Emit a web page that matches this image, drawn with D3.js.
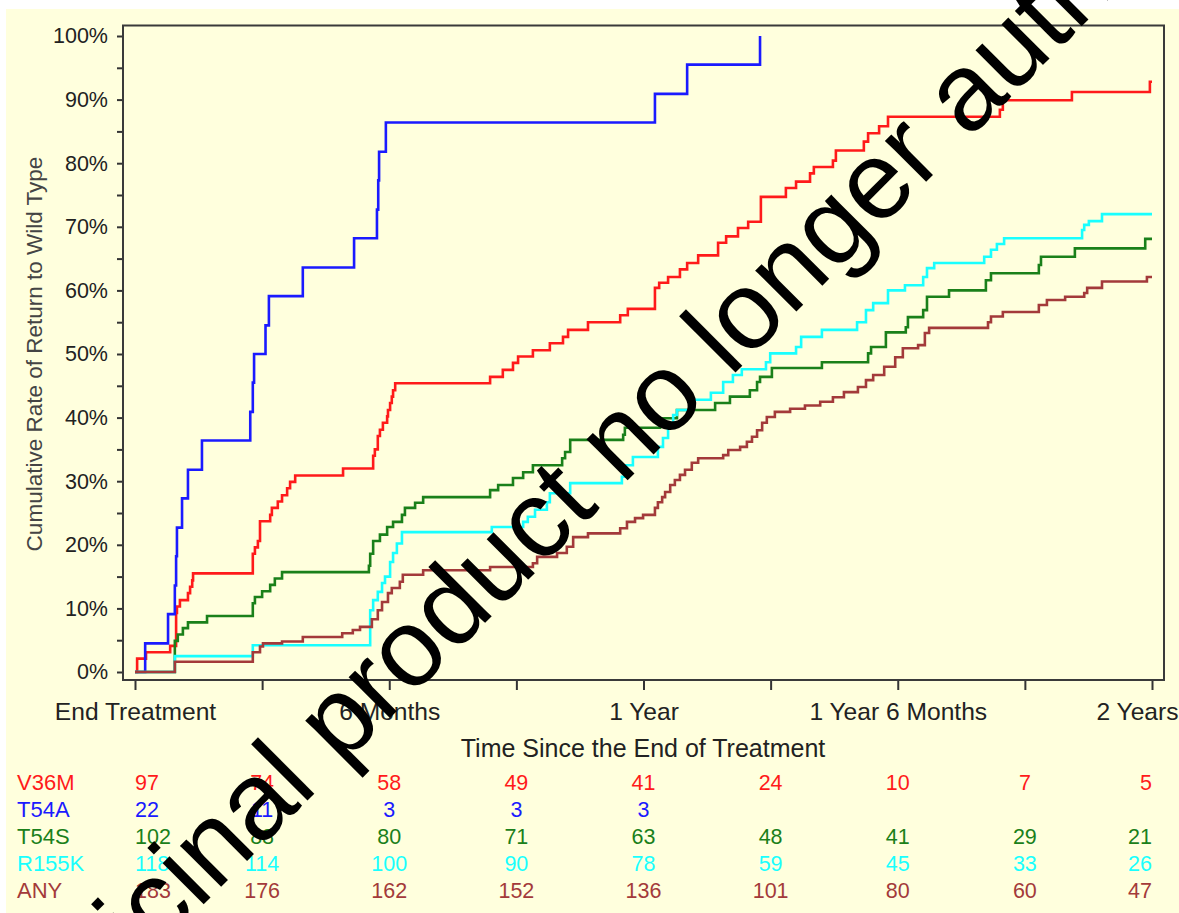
<!DOCTYPE html>
<html>
<head>
<meta charset="utf-8">
<script src="https://cdn.jsdelivr.net/npm/d3@7"></script>
<style>
body { margin: 0; background: #fff; }
svg { display: block; font-family: "Liberation Sans", Arial, sans-serif; }
</style>
</head>
<body>
<svg width="1179" height="913"></svg>
<script>
var tickMonths = [0, 3, 6, 9, 12, 15, 18, 21, 24];
var tickLabels = ["End Treatment", "", "6 Months", "", "1 Year", "", "1 Year 6 Months", "", "2 Years"];
var groups = ["V36M", "T54A", "T54S", "R155K", "ANY"];
var colors = ["#ff1a1a", "#1a1aff", "#1a801a", "#19ffff", "#a33a3a"];

// [months since end of treatment, cumulative % back to wild type]
var v36m = [[0,0],[0.05,2.1],[0.26,3.1],[0.83,4.1],[0.97,9.3],[0.99,10.3],[1.06,11.3],[1.25,12.4],[1.30,13.4],[1.35,14.4],[1.37,15.5],
    [2.78,18.6],[2.83,19.6],[2.90,20.6],[2.95,23.7],[3.19,24.7],[3.23,25.8],[3.37,26.8],[3.47,27.8],[3.59,28.9],[3.66,29.9],[3.78,30.9],
    [4.91,32.0],[5.62,34.0],[5.66,35.0],[5.73,37.1],[5.78,38.1],[5.85,39.2],[5.95,40.2],[5.97,41.2],[6.02,42.3],[6.06,43.3],[6.09,44.3],[6.14,45.4],
    [8.38,46.4],[8.68,47.5],[8.92,48.6],[9.04,49.6],[9.39,50.6],[9.79,51.7],[10.10,52.7],[10.22,53.8],[10.69,55.0],[11.45,56.1],[11.63,57.1],
    [12.27,60.4],[12.37,61.2],[12.58,62.1],[12.86,63.3],[13.03,64.3],[13.29,65.5],[13.76,67.5],[13.95,68.5],[14.23,69.8],[14.47,70.8],[14.77,74.7],
    [15.36,76.1],[15.60,77.1],[15.93,78.4],[16.02,79.4],[16.47,80.4],[16.54,82.0],[17.20,83.4],[17.30,84.7],[17.56,85.8],[17.77,87.3],
    [20.41,88.4],[20.48,89.9],[22.11,91.2],[23.95,92.8],[24,92.8]];
var t54a = [[0,0],[0.24,4.5],[0.78,9.1],[0.94,13.6],[0.97,18.2],[0.99,22.7],[1.11,27.3],[1.25,31.8],[1.58,36.4],[2.72,40.9],[2.78,45.5],
    [2.81,50.0],[3.08,54.5],[3.16,59.1],[3.96,63.6],[5.17,68.2],[5.71,72.7],[5.74,77.3],[5.76,81.8],[5.92,86.4],[12.27,90.9],[13.03,95.5],[14.75,100]];
var t54s = [[0,0],[0.94,4.9],[1.01,5.9],[1.13,6.9],[1.25,7.8],[1.70,8.8],[2.78,10.8],[2.83,11.8],[3.00,12.7],[3.19,13.7],[3.30,14.7],[3.47,15.7],
    [5.52,16.7],[5.55,18.6],[5.62,20.6],[5.78,21.6],[5.95,22.8],[6.09,23.6],[6.30,24.7],[6.37,25.8],[6.61,26.6],[6.80,27.5],
    [8.38,28.6],[8.57,29.4],[8.92,30.5],[9.16,31.4],[9.39,32.5],[10.08,33.6],[10.15,34.6],[10.27,36.5],[11.52,37.3],[11.56,38.4],
    [12.39,39.9],[12.79,41.2],[13.69,42.3],[14.04,43.3],[14.51,44.3],[14.68,45.6],[14.75,46.4],[15.03,47.8],[16.21,48.7],
    [17.30,50.1],[17.37,51.1],[17.72,53.4],[18.19,54.2],[18.24,55.8],[18.60,56.9],[18.69,59.0],[19.21,60.0],[20.08,61.6],[20.20,62.7],
    [21.33,64.0],[21.38,65.3],[22.18,66.6],[23.84,68.1],[24,68.1]];
var r155k = [[0,0],[0.94,2.5],[2.78,4.2],[5.55,9.7],[5.62,11.3],[5.73,12.6],[5.83,14.0],[5.90,15.0],[6.02,17.3],[6.09,18.7],[6.18,20.2],[6.30,22.0],
    [8.42,22.8],[9.16,23.6],[9.27,24.4],[9.44,25.5],[9.72,26.7],[9.79,28.1],[10.27,29.7],[11.49,30.7],[11.56,32.5],[11.75,33.8],
    [12.34,35.4],[12.46,36.8],[12.58,39.2],[12.70,40.4],[12.79,41.2],[13.17,42.8],[13.59,43.9],[13.88,45.6],[14.11,46.7],[14.32,47.6],
    [14.89,48.7],[14.99,50.1],[15.60,51.1],[15.72,52.7],[16.21,53.8],[17.04,55.0],[17.25,56.9],[17.42,58.0],[17.77,60.0],[18.17,60.8],
    [18.60,62.1],[18.69,63.5],[18.86,64.3],[20.04,65.3],[20.20,66.4],[20.34,67.3],[20.51,68.2],[22.35,69.5],[22.40,70.3],[22.51,70.9],
    [22.82,72.0],[24,72.0]];
var anyMut = [[0,0],[0.94,1.6],[2.78,3.1],[2.95,4.0],[3.02,4.5],[3.47,4.8],[3.96,5.5],[4.89,6.1],[5.14,6.6],[5.31,7.1],[5.59,8.3],[5.73,9.7],
    [5.83,11.0],[5.97,12.4],[6.06,13.2],[6.25,14.2],[6.32,15.3],[6.80,16.0],[8.38,16.5],[9.39,17.1],[9.49,18.1],[9.96,18.7],[10.19,19.7],
    [10.34,21.2],[10.69,21.8],[11.45,22.6],[11.61,23.6],[11.80,24.2],[11.99,24.7],[12.27,25.8],[12.34,26.7],[12.44,27.5],[12.51,28.3],
    [12.63,29.4],[12.74,30.2],[12.86,31.0],[12.98,31.8],[13.14,32.9],[13.29,33.6],[13.88,34.1],[14.00,34.9],[14.28,35.4],[14.44,36.2],
    [14.56,37.0],[14.68,38.0],[14.80,39.2],[14.91,40.1],[15.10,40.9],[15.46,41.4],[15.81,41.9],[16.17,42.5],[16.47,43.2],[16.73,44.0],
    [17.06,44.8],[17.25,45.9],[17.42,46.7],[17.68,48.0],[17.94,49.5],[18.12,50.9],[18.48,51.4],[18.64,53.3],[18.74,54.1],[20.13,55.0],
    [20.20,55.9],[20.48,56.6],[21.33,57.7],[21.52,58.5],[21.95,59.0],[22.40,59.6],[22.47,60.4],[22.82,61.4],[23.88,62.1],[24,62.1]];

// number at risk at each tick
var riskV36M = [97, 74, 58, 49, 41, 24, 10, 7, 5];
var riskT54A = [22, 11, 3, 3, 3, null, null, null, null];
var riskT54S = [102, 88, 80, 71, 63, 48, 41, 29, 21];
var riskR155K = [118, 114, 100, 90, 78, 59, 45, 33, 26];
var riskAny = [183, 176, 162, 152, 136, 101, 80, 60, 47];

var watermark = "Medicinal product no longer authorised";

var svg = d3.select("svg");

svg.append("rect").attr("width", 1179).attr("height", 913).attr("fill", "#fff");
svg.append("rect").attr("x", 6).attr("y", 9).attr("width", 1173).attr("height", 904).attr("fill", "#ffffdd");

var x = d3.scaleLinear().domain([0, 24]).range([135, 1152]);
var y = d3.scaleLinear().domain([0, 100]).range([672, 36]);

// axes
var yAxis = d3.axisLeft(y)
    .tickValues(d3.range(0, 101, 5))
    .tickSize(6)
    .tickPadding(9)
    .tickFormat(function(d) { return d % 10 == 0 ? d + "%" : ""; });
var gy = svg.append("g")
    .attr("transform", "translate(123,0)")
    .call(yAxis);
gy.attr("font-size", null).attr("font-family", null);
gy.select(".domain").remove();
gy.selectAll(".tick line").attr("stroke", "#333").attr("stroke-width", 2);
gy.selectAll(".tick text").attr("fill", "#222").style("font-size", "21.5px");

var xAxis = d3.axisBottom(x)
    .tickValues(tickMonths)
    .tickSize(10)
    .tickPadding(13)
    .tickFormat(function(d, i) { return tickLabels[i]; });
var gx = svg.append("g")
    .attr("transform", "translate(0,680)")
    .call(xAxis);
gx.attr("font-size", null).attr("font-family", null);
gx.select(".domain").remove();
gx.selectAll(".tick line").attr("stroke", "#333").attr("stroke-width", 2);
gx.selectAll(".tick text").attr("fill", "#222").style("font-size", "24.6px");
gx.selectAll(".tick text").filter(function(d, i) { return i == tickMonths.length - 1; })
    .attr("text-anchor", "end").attr("dx", 26);

// frame
svg.append("rect")
    .attr("x", 123).attr("y", 25.5)
    .attr("width", 1041).attr("height", 654.5)
    .attr("fill", "none")
    .attr("stroke", "#3a3a3a")
    .attr("stroke-width", 2);

// curves
var line = d3.line()
    .curve(d3.curveStepAfter)
    .x(function(d) { return x(d[0]); })
    .y(function(d) { return y(d[1]); });

var series = [v36m, t54a, t54s, r155k, anyMut];
svg.append("g")
    .selectAll("path")
    .data(series)
    .enter().append("path")
    .attr("d", line)
    .attr("fill", "none")
    .attr("stroke", function(d, i) { return colors[i]; })
    .attr("stroke-width", 2.6);

// titles
svg.append("text")
    .attr("x", 643).attr("y", 757)
    .attr("text-anchor", "middle")
    .attr("fill", "#222")
    .style("font-size", "25px")
    .text("Time Since the End of Treatment");

svg.append("text")
    .attr("transform", "translate(42,354) rotate(-90)")
    .attr("text-anchor", "middle")
    .attr("fill", "#444")
    .style("font-size", "22.5px")
    .text("Cumulative Rate of Return to Wild Type");

// at-risk table
var riskRows = [riskV36M, riskT54A, riskT54S, riskR155K, riskAny];
var table = svg.append("g").style("font-size", "21.5px");
riskRows.forEach(function(row, i) {
    var rowY = 790 + i * 27;
    table.append("text")
        .attr("x", 17).attr("y", rowY)
        .attr("fill", colors[i])
        .style("font-size", "22px")
        .text(groups[i]);
    table.selectAll(null)
        .data(row)
        .enter().append("text")
        .filter(function(d) { return d != null; })
        .attr("x", function(d, j) { return x(tickMonths[j]); })
        .attr("y", rowY)
        .attr("text-anchor", function(d, j) { return j == 0 ? "start" : (j == tickMonths.length - 1 ? "end" : "middle"); })
        .attr("fill", colors[i])
        .text(function(d) { return d; });
});

// watermark over everything
svg.append("text")
    .attr("transform", "translate(-9,1117) rotate(-45)")
    .attr("fill", "#000")
    .style("font-size", "110px")
    .text(watermark);
</script>
</body>
</html>
